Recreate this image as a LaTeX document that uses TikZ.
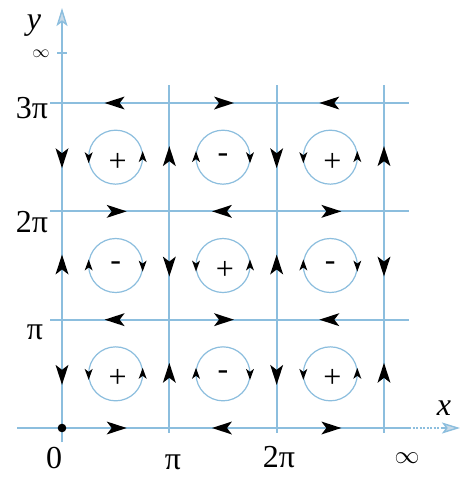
\documentclass[tikz,border=0pt]{standalone}
\usepackage{fontspec}
\setmainfont{Liberation Serif}
\usetikzlibrary{arrows.meta}
\definecolor{gridc}{RGB}{140,190,222}
\definecolor{axfill}{RGB}{200,218,232}
\newcommand\bigtxt{\fontsize{32}{34}\selectfont}
\newcommand\inftxt{\fontsize{25}{27}\selectfont}
\newcommand\smalltxt{\fontsize{17}{19}\selectfont}
\tikzset{
  gridline/.style={draw=gridc, line width=1.4pt},
  cyc/.style={draw=gridc, line width=1.2pt},
  lab/.style={inner sep=0pt},
  axhead/.style={-{Stealth[length=18pt,width=11pt,inset=4pt,fill=axfill,color=gridc]}},
  bigarr/.pic={\fill[black] (11pt,0pt) -- (-9pt,6.5pt) -- (-4pt,0pt) -- (-9pt,-6.5pt) -- cycle;},
  smallarr/.pic={\fill[black] (6pt,0pt) -- (-5pt,4pt) -- (-2pt,0pt) -- (-5pt,-4pt) -- cycle;}
}
\begin{document}
\begin{tikzpicture}[x=1pt,y=-1pt]
\useasboundingbox (0,0) rectangle (461,477);
\fill[white] (0,0) rectangle (461,477);
\def\X#1{62+107.33*(#1)}
\def\Y#1{428-108.33*(#1)}
% grid lines
\foreach \yy in {103,211,320} \draw[gridline] (50,\yy) -- (409,\yy);
\foreach \xx in {169,277,384} \draw[gridline] (\xx,85) -- (\xx,433);
% axes
\coordinate (xs) at (17,428);
\coordinate (xm) at (409,428);
\coordinate (xd) at (441,428);
\coordinate (xe) at (460,428);
\draw[gridline] (xs) -- (xm);
\draw[gridline, dash pattern=on 2pt off 1.5pt] (xm) -- (xd);
\draw[gridline, axhead] (xd) -- (xe);
\coordinate (ys) at (62,442);
\coordinate (ye) at (62,8);
\draw[gridline, axhead] (ys) -- (ye);
\coordinate (tk1) at (57,53);
\coordinate (tk2) at (67,53);
\draw[gridline] (tk1) -- (tk2);
\fill[black] (62,428) circle (4.3pt);
% circles, signs, small arrows
\foreach \i in {0,1,2} \foreach \j in {0,1,2} {
  \pgfmathsetmacro\cx{\X{\i+0.5}}
  \pgfmathsetmacro\cy{\Y{\j+0.5}}
  \draw[cyc] (\cx,\cy) circle (27pt);
  \pgfmathtruncatemacro\pty{mod(\i+\j,2)}
  \ifnum\pty=0
    \node[lab] (s\i\j) at (\cx+2,\cy+5) {\bigtxt +};
    \pic[rotate=-90] at (\cx-27,\cy) {smallarr};
    \pic[rotate=90] at (\cx+27,\cy) {smallarr};
  \else
    \node[lab] (s\i\j) at (\cx,\cy+1) {\bigtxt -};
    \pic[rotate=90] at (\cx-27,\cy) {smallarr};
    \pic[rotate=-90] at (\cx+27,\cy) {smallarr};
  \fi
}
% big arrows on vertical lines
\foreach \i in {0,1,2,3} \foreach \j in {0,1,2} {
  \pgfmathtruncatemacro\pty{mod(\i+\j,2)}
  \pgfmathsetmacro\ang{\pty==0 ? -90 : 90}
  \pic[rotate=\ang] at ({\X{\i}},{\Y{\j+0.5}}) {bigarr};
}
% big arrows on horizontal lines
\foreach \i in {0,1,2} \foreach \j in {0,1,2,3} {
  \pgfmathtruncatemacro\pty{mod(\i+\j,2)}
  \pgfmathsetmacro\ang{\pty==0 ? 0 : 180}
  \pic[rotate=\ang] at ({\X{\i+0.5}},{\Y{\j}}) {bigarr};
}
% labels
\node[lab] (ly) at (34,26) {\bigtxt\itshape y};
\node[lab] (linf) at (41,54) {\smalltxt$\infty$};
\node[lab] (l3p) at (32,108) {\bigtxt 3π};
\node[lab] (l2p) at (32,222) {\bigtxt 2π};
\node[lab] (l1p) at (35,332) {\bigtxt π};
\node[lab] (l0) at (54,458) {\bigtxt 0};
\node[lab] (b1p) at (173,462) {\bigtxt π};
\node[lab] (b2p) at (279,457) {\bigtxt 2π};
\node[lab] (binf) at (407,458) {\inftxt$\infty$};
\node[lab] (lx) at (444,408) {\bigtxt\itshape x};
\end{tikzpicture}
\end{document}
